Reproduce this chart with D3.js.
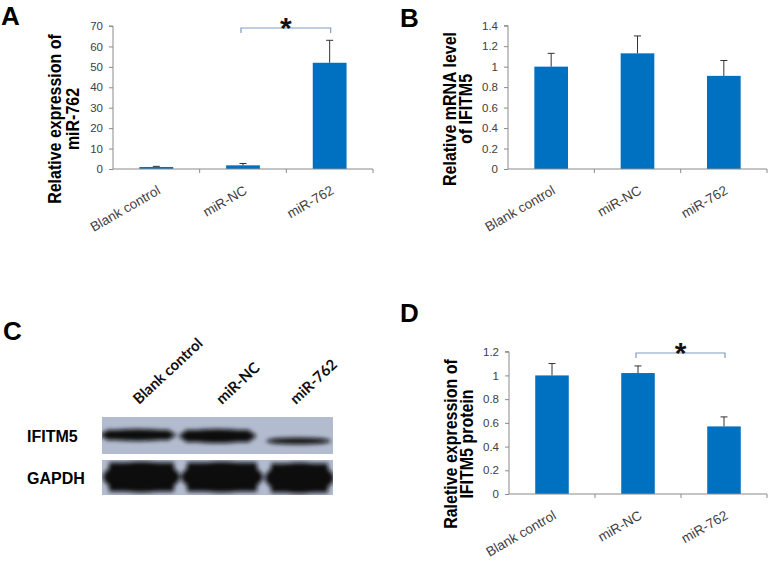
<!DOCTYPE html>
<html><head><meta charset="utf-8">
<script src="https://cdn.jsdelivr.net/npm/d3@7"></script>
<style>
html,body{margin:0;padding:0;background:#fff;}
svg{display:block;}
</style></head>
<body>
<svg id="fig" width="769" height="562"></svg>
<script>
// ---------- data ----------
const categories = ["Blank control", "miR-NC", "miR-762"];

const mirValues = [1.0, 1.8, 52.0];
const mirErrors = [0.3, 0.9, 11.0];
const mirTicks = [0, 10, 20, 30, 40, 50, 60, 70];

const mrnaValues = [1.0, 1.13, 0.91];
const mrnaErrors = [0.13, 0.17, 0.15];
const mrnaTicks = [0, 0.2, 0.4, 0.6, 0.8, 1.0, 1.2, 1.4];

const proteinValues = [1.0, 1.02, 0.57];
const proteinErrors = [0.10, 0.06, 0.08];
const proteinTicks = [0, 0.2, 0.4, 0.6, 0.8, 1.0, 1.2];

const blotRows = ["IFITM5", "GAPDH"];
const ifitm5Band = [1.0, 1.2, 0.45];
const gapdhBand = [1.0, 1.0, 1.0];

// ---------- drawing ----------
const svg = d3.select("#fig");
const FONT = "'Liberation Sans', Arial, sans-serif";
const BAR = "#0070c0";
const AXIS = "#8a8a8a";
const TXT = "#404040";
const BRACKET = "#7f9cc0";

function fmt(v) { return (Math.round(v * 10) / 10).toString(); }

function barPanel(opt) {
  const g = svg.append("g");
  const x = d3.scaleBand().domain(categories).range([opt.x0, opt.x1])
    .paddingInner(0.61).paddingOuter(0.305);
  const y = d3.scaleLinear().domain([0, opt.ticks[opt.ticks.length - 1]])
    .range([opt.yBottom, opt.yTop]);
  const step = x.step();

  // bars
  g.selectAll("rect.bar").data(opt.values).enter().append("rect")
    .attr("x", (d, i) => x(categories[i]))
    .attr("width", x.bandwidth())
    .attr("y", d => y(d))
    .attr("height", d => y(0) - y(d))
    .attr("fill", BAR);

  // error bars (upper only)
  opt.values.forEach((v, i) => {
    const cx = x(categories[i]) + x.bandwidth() / 2;
    const top = y(v + opt.errors[i]);
    g.append("line").attr("x1", cx).attr("x2", cx).attr("y1", y(v)).attr("y2", top)
      .attr("stroke", "#333").attr("stroke-width", 1);
    g.append("line").attr("x1", cx - 3.5).attr("x2", cx + 3.5).attr("y1", top).attr("y2", top)
      .attr("stroke", "#333").attr("stroke-width", 1);
  });

  // y axis
  const yAxis = d3.axisLeft(y).tickValues(opt.ticks).tickSize(4).tickPadding(6)
    .tickFormat(fmt);
  const ya = g.append("g").attr("transform", `translate(${opt.x0},0)`).call(yAxis);
  ya.select(".domain").attr("stroke", AXIS).attr("d", `M-4,${opt.yTop}H0V${opt.yBottom}`);
  ya.selectAll(".tick line").attr("stroke", AXIS);
  ya.selectAll(".tick text").attr("fill", TXT).attr("font-family", FONT).attr("font-size", 11.5);

  // x axis
  g.append("line").attr("x1", opt.x0).attr("x2", opt.x1).attr("y1", y(0)).attr("y2", y(0))
    .attr("stroke", AXIS);
  categories.forEach((c, i) => {
    const tx = opt.x0 + step * (i + 1);
    g.append("line").attr("x1", tx).attr("x2", tx).attr("y1", y(0)).attr("y2", y(0) + 4)
      .attr("stroke", AXIS);
    const cx = x(c) + x.bandwidth() / 2;
    g.append("text").text(c)
      .attr("transform", `translate(${cx + 5},${y(0) + 24}) rotate(-30)`)
      .attr("text-anchor", "end").attr("font-family", FONT).attr("font-size", 13.5)
      .attr("fill", TXT);
  });

  // y title
  opt.title.forEach((t, k) => {
    g.append("text").text(t)
      .attr("transform", `translate(${opt.titleX[k]},${opt.titleY}) rotate(-90) scale(1,1.12)`)
      .attr("text-anchor", "middle")
      .attr("font-family", FONT).attr("font-weight", "bold").attr("font-size", 16)
      .attr("fill", "#000");
  });

  // panel letter
  g.append("text").text(opt.letter).attr("x", opt.letterX).attr("y", opt.letterY)
    .attr("font-family", FONT).attr("font-weight", "bold").attr("font-size", 26);

  // significance bracket
  if (opt.sig) {
    const [a, b] = opt.sig;
    const xa = x(categories[a]) + x.bandwidth() / 2 - 2;
    const xb = x(categories[b]) + x.bandwidth() / 2 + 1;
    const by = opt.sigY;
    g.append("path").attr("d", `M${xa},${by + 5}V${by}H${xb}V${by + 5}`)
      .attr("fill", "none").attr("stroke", BRACKET).attr("stroke-width", 1.2);
    g.append("text").text("*").attr("x", (xa + xb) / 2).attr("y", by + 9.5)
      .attr("text-anchor", "middle").attr("font-family", FONT).attr("font-weight", "bold")
      .attr("font-size", 30).attr("fill", "#111");
  }
}

barPanel({ letter: "A", letterX: 1, letterY: 25, x0: 113, x1: 373, yTop: 26, yBottom: 169,
  values: mirValues, errors: mirErrors, ticks: mirTicks,
  title: ["Relative expression of", "miR-762"], titleX: [61, 79], titleY: 119,
  sig: [1, 2], sigY: 28 });

barPanel({ letter: "B", letterX: 400, letterY: 27, x0: 508, x1: 767, yTop: 25.7, yBottom: 169,
  values: mrnaValues, errors: mrnaErrors, ticks: mrnaTicks,
  title: ["Relative mRNA level", "of IFITM5"], titleX: [456, 472], titleY: 109 });

barPanel({ letter: "D", letterX: 400, letterY: 322, x0: 509, x1: 767, yTop: 351.7, yBottom: 494,
  values: proteinValues, errors: proteinErrors, ticks: proteinTicks,
  title: ["Raletive expression of", "IFITM5 protein"], titleX: [457, 473], titleY: 444,
  sig: [1, 2], sigY: 353 });

// ---------- panel C: western blot ----------
(function () {
  const g = svg.append("g");
  const defs = svg.append("defs");
  defs.append("filter").attr("id", "blur").attr("x", "-20%").attr("y", "-50%")
    .attr("width", "140%").attr("height", "200%")
    .append("feGaussianBlur").attr("stdDeviation", 2.3);
  defs.append("clipPath").attr("id", "clip1").append("rect")
    .attr("x", 102).attr("y", 417).attr("width", 231).attr("height", 37);
  defs.append("clipPath").attr("id", "clip2").append("rect")
    .attr("x", 102).attr("y", 460).attr("width", 231).attr("height", 35);

  g.append("text").text("C").attr("x", 3).attr("y", 340)
    .attr("font-family", FONT).attr("font-weight", "bold").attr("font-size", 26);

  // lane labels
  const labelX = [139, 222, 296];
  categories.forEach((c, i) => {
    g.append("text").text(c)
      .attr("transform", `translate(${labelX[i]},${405}) rotate(-43)`)
      .attr("font-family", "Lato, 'Open Sans', sans-serif").attr("font-weight", "bold")
      .attr("font-size", 15).attr("fill", "#111");
  });

  const rows = [
    { name: blotRows[0], y0: 417, h: 37, band: ifitm5Band, cy: [435, 436, 441], th: 10, clip: "clip1",
      bandX: [[100, 176], [179, 256], [266, 331]] },
    { name: blotRows[1], y0: 460, h: 35, band: gapdhBand, cy: [477, 477, 478], th: 29, clip: "clip2",
      bandX: [[103, 180], [181, 263], [265, 334]] }
  ];
  rows.forEach(r => {
    g.append("rect").attr("x", 102).attr("y", r.y0).attr("width", 231).attr("height", r.h)
      .attr("fill", "#b3bccf");
    const bg = g.append("g").attr("clip-path", `url(#${r.clip})`).append("g").attr("filter", "url(#blur)");
    r.band.forEach((v, i) => {
      const [a, b] = r.bandX[i];
      const t = r.th * v;
      bg.append("ellipse").attr("cx", (a + b) / 2).attr("cy", r.cy[i])
        .attr("rx", (b - a) / 2).attr("ry", t / 2 + 1)
        .attr("fill", "#0a0a10");
      bg.append("rect").attr("x", a + 6).attr("width", b - a - 12)
        .attr("y", r.cy[i] - t / 2).attr("height", t)
        .attr("fill", "#0a0a10");
    });
    g.append("text").text(r.name).attr("x", 27).attr("y", r.y0 + r.h / 2 + 6)
      .attr("font-family", FONT).attr("font-weight", "bold").attr("font-size", 16).attr("fill", "#000");
  });
})();
</script>
</body></html>
